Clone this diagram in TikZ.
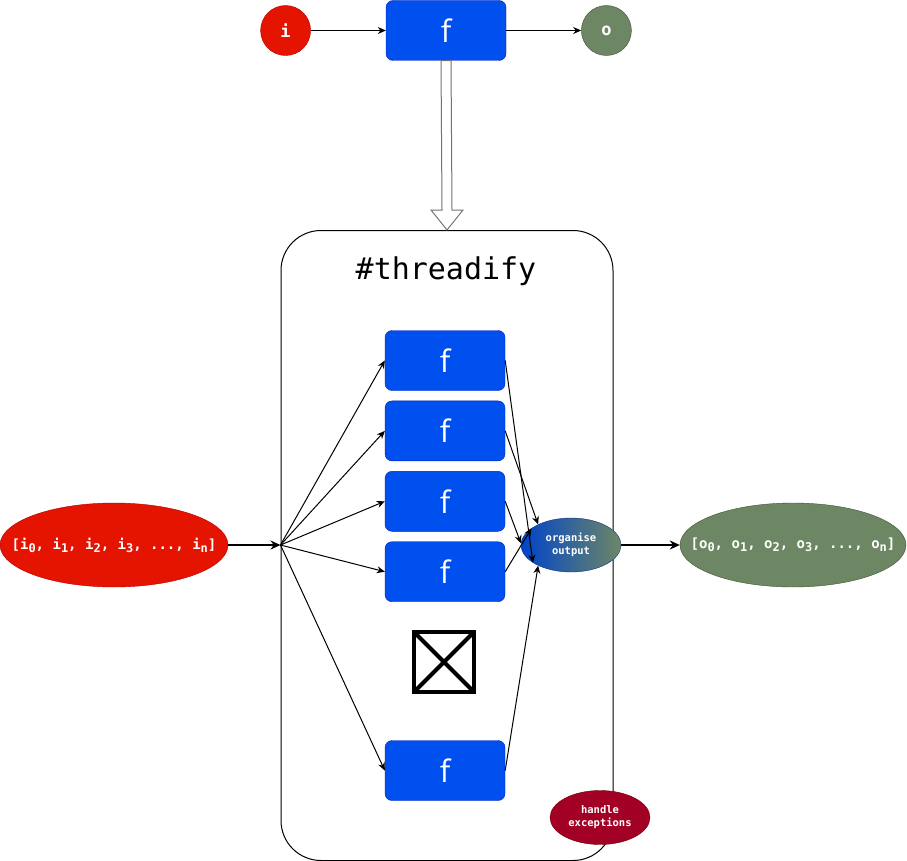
\documentclass[tikz,border=0pt]{standalone}
\usepackage{fontspec}
\setmainfont{Open Sans}
\setmonofont{DejaVu Sans Mono}
\usetikzlibrary{shapes.geometric,arrows.meta,positioning,calc}
\definecolor{redfill}{HTML}{E51400}
\definecolor{redline}{HTML}{B20000}
\definecolor{bluefill}{HTML}{0050EF}
\definecolor{blueline}{HTML}{001DBC}
\definecolor{greenfill}{HTML}{6D8764}
\definecolor{greenline}{HTML}{3A5431}
\definecolor{crimsonfill}{HTML}{A20025}
\definecolor{crimsonline}{HTML}{6F0000}
\newcommand{\idx}[1]{\raisebox{-3pt}{\fontsize{12}{13}\selectfont #1}}
\tikzset{
    func/.style={rectangle, draw=blueline, fill=bluefill, rounded corners=7pt, minimum width=120pt, minimum height=60pt, inner sep=0, text=white, font=\fontsize{31}{34}\selectfont},
    inbub/.style={circle, draw=redline, fill=redfill, minimum size=50pt, inner sep=0, text=white, font=\fontsize{17}{19}\selectfont\ttfamily\bfseries},
    outbub/.style={circle, draw=greenline, fill=greenfill, minimum size=50pt, inner sep=0, text=white, font=\fontsize{17}{19}\selectfont\ttfamily\bfseries},
    listtext/.style={text=white, font=\fontsize{14}{16}\selectfont\ttfamily\bfseries},
    inlist/.style={ellipse, draw=redline, fill=redfill, minimum width=228pt, minimum height=84pt, inner sep=0},
    outlist/.style={ellipse, draw=greenline, fill=greenfill, minimum width=226pt, minimum height=84pt, inner sep=0},
    helper/.style={ellipse, minimum width=100pt, minimum height=54pt, inner sep=0, align=center, text=white, font=\fontsize{10.5}{13}\selectfont\ttfamily\bfseries},
    wrapper/.style={rectangle, draw, line width=1pt, rounded corners=40pt, minimum width=332pt, minimum height=630pt},
    nogo/.style={rectangle, draw, line width=4pt, minimum size=60pt, path picture={\draw[line width=4pt] (path picture bounding box.north west) -- (path picture bounding box.south east) (path picture bounding box.north east) -- (path picture bounding box.south west);}},
    msg/.style={-{Stealth[length=8pt, width=7pt]}, line width=1pt},
    flow/.style={-{Stealth[length=10pt, width=9pt]}, line width=2pt},
}
\begin{document}
\begin{tikzpicture}[x=1pt, y=-1pt, node distance=10pt and 75pt]
    \useasboundingbox (0,0) rectangle (907,861);

    \node[func] (top) at (446,30.5) {f};
    \node[inbub, left=of top] (i) {i};
    \node[outbub, right=of top] (o) {o};

    \node[wrapper] (thr) at (447,545.5) {};
    \node[font=\fontsize{30}{34}\selectfont\ttfamily] (title) at (446,271) {\#threadify};

    \node[func] (f1) at (445,360.5) {f};
    \node[func, below=of f1] (f2) {f};
    \node[func, below=of f2] (f3) {f};
    \node[func, below=of f3] (f4) {f};
    \node[nogo] (skip) at (444,662) {};
    \node[func] (fn) at (445,770.5) {f};

    \node[inlist, label={[listtext]center:[i\idx{0}, i\idx{1}, i\idx{2}, i\idx{3}, ..., i\idx{n}]}] (ins) at (114,545) {};
    \node[outlist, label={[listtext]center:[o\idx{0}, o\idx{1}, o\idx{2}, o\idx{3}, ..., o\idx{n}]}] (outs) at (793,545) {};
    \node[helper, draw=blueline!60!greenline, left color=bluefill!85!black, right color=greenfill] (org) at (571,545) {organise\\output};
    \node[helper, draw=crimsonline, fill=crimsonfill] (exc) at (600,817.5) {handle\\exceptions};
    \coordinate (fan) at (thr.west |- ins.east);

    % top row
    \draw[msg] (i) -- (top);
    \draw[msg] (top) -- (o);
    \draw[draw=black!55, fill=white, line width=1pt]
        ($(top.south)+(-5,0)$) -- ($(thr.north)+(-5,-20)$) -- ($(thr.north)+(-16,-20)$) -- (thr.north)
        -- ($(thr.north)+(16,-20)$) -- ($(thr.north)+(5,-20)$) -- ($(top.south)+(5,0)$) -- cycle;

    % fan out
    \draw[flow] (ins) -- (fan);
    \foreach \f in {f1,f2,f3,f4,fn}
        \draw[msg] (fan) -- (\f.west);

    % collect
    \draw[msg] (f1.east) -- (org.205);
    \draw[msg] (f2.east) -- (org.148);
    \draw[msg] (f3.east) -- (org.178);
    \draw[msg] (f4.east) -- (org.157);
    \draw[msg] (fn.east) -- (org.212);
    \draw[flow] (org) -- (outs);
\end{tikzpicture}
\end{document}
